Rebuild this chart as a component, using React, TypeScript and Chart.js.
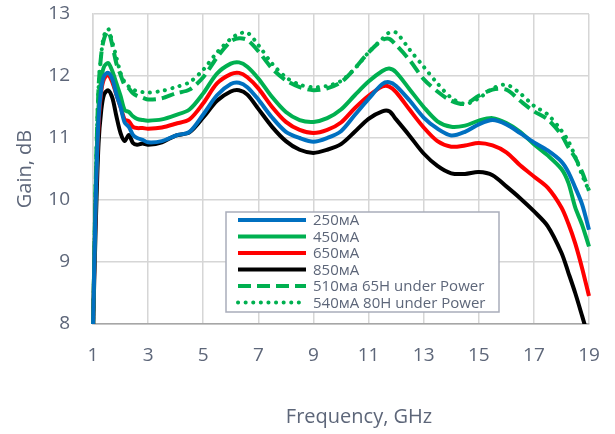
import React, { useEffect, useRef } from "react";
import { Chart, registerables } from "chart.js";

Chart.register(...registerables);

const frequencies = [
  1.0, 1.1, 1.2, 1.3, 1.4, 1.55, 1.7, 1.85, 2.0, 2.15, 2.3, 2.45, 2.6, 2.8, 3.0, 3.5, 4.0, 4.5, 5.0, 5.5,
  6.0, 6.3, 6.6, 7.0, 7.5, 8.0, 8.5, 9.0, 9.5, 10.0, 10.5, 11.0, 11.5, 11.75, 12.0, 12.5, 13.0, 13.5, 14.0,
  14.5, 15.0, 15.5, 16.0, 16.5, 17.0, 17.5, 18.0, 18.25, 18.5, 18.75, 19.0,
];

const gain250 = [
  7.9, 10.0, 11.3, 11.8, 12.0, 12.05, 11.95, 11.7, 11.5, 11.25, 11.18, 11.05, 11.0, 10.97, 10.93, 10.95, 11.04,
  11.1, 11.38, 11.69, 11.87, 11.89, 11.82, 11.62, 11.33, 11.1, 11.0, 10.94, 11.0, 11.11, 11.37, 11.63, 11.87,
  11.9, 11.84, 11.6, 11.33, 11.15, 11.04, 11.1, 11.22, 11.29, 11.22, 11.08, 10.93, 10.8, 10.62, 10.45, 10.2,
  9.93, 9.52,
];

const gain450 = [
  7.9, 10.2, 11.5, 11.95, 12.15, 12.21, 12.08, 11.88, 11.68, 11.45, 11.42, 11.35, 11.31, 11.29, 11.28, 11.3,
  11.37, 11.46, 11.72, 12.04, 12.2, 12.22, 12.15, 11.96, 11.66, 11.42, 11.29, 11.26, 11.32, 11.46, 11.69, 11.91,
  12.08, 12.12, 12.06, 11.78, 11.5, 11.27, 11.18, 11.2, 11.28, 11.32, 11.24, 11.1, 10.9, 10.72, 10.5, 10.28,
  9.88, 9.6, 9.25,
];

const gain650 = [
  7.9, 10.0, 11.2, 11.75, 11.95, 12.02, 11.9, 11.7, 11.5, 11.3, 11.27, 11.18, 11.16, 11.16, 11.15, 11.17, 11.23,
  11.3, 11.56, 11.88, 12.03, 12.05, 11.98, 11.8, 11.5, 11.26, 11.13, 11.08, 11.13, 11.25, 11.48, 11.68, 11.83,
  11.83, 11.74, 11.45, 11.17, 10.95, 10.86, 10.88, 10.92, 10.88, 10.77, 10.56, 10.38, 10.2, 9.88, 9.62, 9.3,
  8.9, 8.45,
];

const gain850 = [
  7.9, 9.6, 10.9, 11.45, 11.7, 11.77, 11.65, 11.35, 11.08, 10.95, 11.05, 10.92, 10.89, 10.91, 10.89, 10.93,
  11.04, 11.09, 11.33, 11.6, 11.75, 11.77, 11.7, 11.47, 11.18, 10.95, 10.81, 10.76, 10.81, 10.9, 11.1, 11.31,
  11.43, 11.43, 11.3, 11.03, 10.75, 10.55, 10.43, 10.42, 10.45, 10.4, 10.22, 10.03, 9.82, 9.58, 9.15, 8.83,
  8.5, 8.13, 7.75,
];

const gain510Power = [
  7.9, 10.3, 11.8, 12.35, 12.6, 12.72, 12.5, 12.2, 12.02, 11.85, 11.8, 11.72, 11.68, 11.65, 11.62, 11.64, 11.72,
  11.78, 11.98, 12.3, 12.56, 12.61, 12.58, 12.4, 12.12, 11.93, 11.82, 11.77, 11.8, 11.9, 12.12, 12.38, 12.58,
  12.6, 12.5, 12.25, 11.95, 11.75, 11.6, 11.55, 11.68, 11.78, 11.78, 11.6, 11.43, 11.3, 11.05, 10.85, 10.68,
  10.45, 10.15,
];

const gain540Power = [
  7.9, 10.3, 11.8, 12.35, 12.65, 12.76, 12.55, 12.3, 12.05, 11.9, 11.83, 11.78, 11.76, 11.74, 11.73, 11.76,
  11.82, 11.9, 12.1, 12.38, 12.6, 12.68, 12.7, 12.5, 12.2, 11.98, 11.86, 11.82, 11.84, 11.92, 12.12, 12.38,
  12.6, 12.7, 12.7, 12.42, 12.15, 11.88, 11.65, 11.55, 11.64, 11.8, 11.86, 11.72, 11.52, 11.38, 11.12, 10.95,
  10.7, 10.4, 10.15,
];

const seriesLabels = [
  "250мА",
  "450мА",
  "650мА",
  "850мА",
  "510ма 65H under Power",
  "540мА 80H under Power",
];

const xTickValues = [1, 3, 5, 7, 9, 11, 13, 15, 17, 19];
const yTickValues = [8, 9, 10, 11, 12, 13];

const xTitle = "Frequency, GHz";
const yTitle = "Gain, dB";

const FONT = "'Open Sans', 'DejaVu Sans', sans-serif";
const TEXT = "#5d6679";

export default function App() {
  const ref = useRef<HTMLCanvasElement>(null);

  useEffect(() => {
    if (!ref.current) return;
    const seriesData = [gain250, gain450, gain650, gain850, gain510Power, gain540Power];
    const colors = ["#0070C0", "#00B050", "#FF0000", "#000000", "#00B050", "#00B050"];
    const dashes = [[], [], [], [], [13, 6], [0.1, 7.5]];
    const caps = ["butt", "butt", "butt", "butt", "butt", "round"];

    const datasets = seriesData.map((vals, i) => ({
      label: seriesLabels[i],
      data: frequencies.map((f, j) => ({ x: f, y: vals[j] })),
      borderColor: colors[i],
      backgroundColor: colors[i],
      borderWidth: 4,
      borderDash: dashes[i],
      borderCapStyle: caps[i],
      pointRadius: 0,
      tension: 0.3,
      clip: { left: 3, top: 3, right: 3, bottom: 0 },
    }));

    const legendPlugin = {
      id: "boxLegend",
      afterDraw(chart: any) {
        const ctx = chart.ctx;
        ctx.save();
        const bx = 226, by = 212, bw = 273, bh = 100;
        ctx.fillStyle = "#ffffff";
        ctx.fillRect(bx, by, bw, bh);
        ctx.strokeStyle = "#a9adba";
        ctx.lineWidth = 1.5;
        ctx.strokeRect(bx, by, bw, bh);
        ctx.font = `15px ${FONT}`;
        ctx.textBaseline = "middle";
        ctx.textAlign = "left";
        chart.data.datasets.forEach((ds: any, i: number) => {
          const y = 220 + i * 16.5;
          ctx.beginPath();
          ctx.strokeStyle = ds.borderColor;
          ctx.lineWidth = 4;
          ctx.lineCap = ds.borderCapStyle;
          ctx.setLineDash(ds.borderDash || []);
          ctx.moveTo(238, y);
          ctx.lineTo(306, y);
          ctx.stroke();
          ctx.setLineDash([]);
          ctx.fillStyle = TEXT;
          ctx.fillText(ds.label, 313, y + 1);
        });
        // x-axis title
        ctx.font = `20px ${FONT}`;
        ctx.textAlign = "center";
        ctx.textBaseline = "alphabetic";
        ctx.fillStyle = TEXT;
        ctx.fillText(xTitle, 359, 423);
        ctx.restore();
      },
    };

    const chart = new Chart(ref.current, {
      type: "line",
      data: { datasets: datasets as any },
      options: {
        animation: false,
        responsive: false,
        layout: { padding: { left: 0, top: 14, right: 26, bottom: 0 } },
        plugins: {
          legend: { display: false },
          tooltip: { enabled: false },
        },
        scales: {
          x: {
            type: "linear",
            min: 1,
            max: 19,
            afterFit: (scale: any) => {
              scale.height = 110;
              scale.paddingLeft = 0;
              scale.paddingRight = 0;
            },
            afterBuildTicks: (scale: any) => {
              scale.ticks = xTickValues.map((v) => ({ value: v }));
            },
            ticks: {
              font: { family: FONT, size: 19 },
              color: TEXT,
              padding: 20,
              maxRotation: 0,
            },
            grid: { color: "#d6d6d6", lineWidth: 1.5, drawTicks: false },
            border: { color: "#a6a6a6", width: 1.5 },
          },
          y: {
            type: "linear",
            min: 8,
            max: 13,
            afterFit: (scale: any) => {
              scale.width = 93;
              scale.paddingTop = 0;
              scale.paddingBottom = 0;
            },
            afterBuildTicks: (scale: any) => {
              scale.ticks = yTickValues.map((v) => ({ value: v }));
            },
            ticks: {
              font: { family: FONT, size: 19 },
              color: TEXT,
              padding: 23,
            },
            grid: { color: "#d6d6d6", lineWidth: 1.5, drawTicks: false },
            border: { color: "#d6d6d6", width: 1.5 },
            title: {
              display: true,
              text: yTitle,
              font: { family: FONT, size: 20 },
              color: TEXT,
              padding: { top: 13, bottom: 0 },
            },
          },
        },
      },
      plugins: [legendPlugin],
    });
    return () => chart.destroy();
  }, []);

  return (
    <div style={{ position: "absolute", left: 0, top: 0, width: 615, height: 434, background: "#ffffff" }}>
      <canvas ref={ref} width={615} height={434} style={{ width: 615, height: 434, display: "block" }} />
    </div>
  );
}
